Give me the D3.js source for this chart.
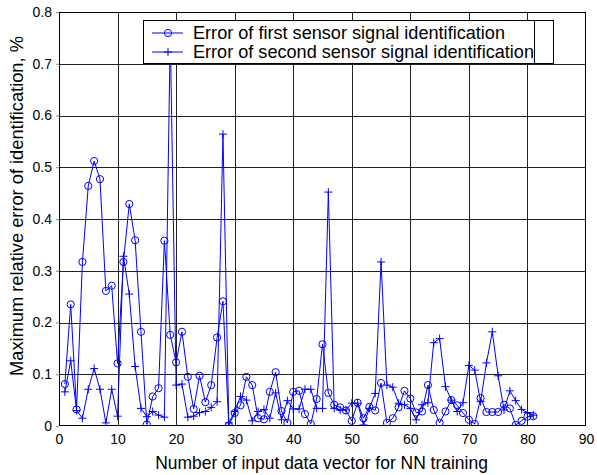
<!DOCTYPE html>
<html><head><meta charset="utf-8">
<script src="https://cdn.jsdelivr.net/npm/d3@7"></script>
<style>body{margin:0;background:#fff}svg{display:block}text{font-family:"Liberation Sans",Arial,sans-serif}</style>
</head><body>
<script>
const xTicks = [0,10,20,30,40,50,60,70,80,90];
const yTicks = [0,0.1,0.2,0.3,0.4,0.5,0.6,0.7,0.8];
const yTickLabels = ["0","0.1","0.2","0.3","0.4","0.5","0.6","0.7","0.8"];
const seriesNames = ["Error of first sensor signal identification","Error of second sensor signal identification"];
const xLabel = "Number of input data vector for NN training";
const yLabel = "Maximum relative error of identification, %";
const sample = d3.range(1, 82);
const firstSensor = [0.081,0.235,0.032,0.317,0.464,0.512,0.477,0.261,0.271,0.121,
0.317,0.429,0.359,0.182,0.003,0.057,0.073,0.358,0.176,0.123,
0.182,0.095,0.033,0.097,0.046,0.079,0.171,0.241,0.001,0.025,
0.040,0.095,0.079,0.015,0.013,0.066,0.104,0.029,0.006,0.066,
0.068,0.023,0.004,0.052,0.158,0.064,0.041,0.036,0.030,0.010,
0.045,0.015,0.037,0.030,0.083,0.006,0.015,0.036,0.068,0.053,
0.026,0.028,0.079,0.031,0.006,0.028,0.050,0.040,0.025,0.012,
0.004,0.054,0.027,0.027,0.027,0.041,0.034,0.002,0.010,0.018,0.019];
const secondSensor = [0.066,0.126,0.030,0.015,0.071,0.111,0.071,0.006,0.071,0.019,
0.328,0.255,0.115,0.034,0.018,0.028,0.021,0.017,0.760,0.079,
0.081,0.017,0.019,0.026,0.028,0.036,0.047,0.564,0.006,0.028,
0.057,0.050,0.010,0.028,0.032,0.015,0.064,0.012,0.049,0.033,
0.033,0.071,0.071,0.034,0.034,0.452,0.034,0.031,0.031,0.044,
0.044,0.002,0.034,0.063,0.317,0.079,0.075,0.044,0.041,0.034,
0.012,0.041,0.045,0.161,0.169,0.076,0.050,0.028,0.045,0.117,
0.108,0.047,0.122,0.182,0.097,0.031,0.068,0.049,0.032,0.026,0.021];

const W = 597, H = 475;
const L = 59, R = 586, T = 12, B = 426;
const blue = "#0000ff";
const svg = d3.select("body").append("svg").attr("width", W).attr("height", H);
const x = d3.scaleLinear().domain([0, 90]).range([L, R]);
const y = d3.scaleLinear().domain([0, 0.8]).range([B, T]);

// grid
const g = svg.append("g").attr("shape-rendering","crispEdges");
g.selectAll(".gx").data(xTicks.slice(1,-1)).join("line")
  .attr("x1", d => Math.round(x(d))+0.5).attr("x2", d => Math.round(x(d))+0.5)
  .attr("y1", T).attr("y2", B).attr("stroke", "#222").attr("stroke-width", 1);
g.selectAll(".gy").data(yTicks.slice(1,-1)).join("line")
  .attr("y1", d => Math.round(y(d))+0.5).attr("y2", d => Math.round(y(d))+0.5)
  .attr("x1", L).attr("x2", R).attr("stroke", "#222").attr("stroke-width", 1);

// axes with tick labels
const xAxis = d3.axisBottom(x).tickValues(xTicks).tickSize(0).tickPadding(8).tickFormat(d3.format("d"));
const yAxis = d3.axisLeft(y).tickValues(yTicks).tickSize(3).tickPadding(4).tickFormat((d,i) => yTickLabels[i]);
const gx = svg.append("g").attr("transform", `translate(0,${B})`).call(xAxis);
const gy = svg.append("g").attr("transform", `translate(${L},0)`).call(yAxis);
[gx, gy].forEach(a => {
  a.select(".domain").remove();
  a.selectAll("text").attr("font-size", 14).attr("fill", "#000").attr("font-family", '"Liberation Sans",Arial,sans-serif');
  a.selectAll("line").attr("stroke", "#888");
});

// box
svg.append("rect").attr("x", L+0.5).attr("y", T+0.5).attr("width", R-L-1).attr("height", B-T-1)
  .attr("fill", "none").attr("stroke", "#000").attr("stroke-width", 1).attr("shape-rendering","crispEdges");

// data
const clip = svg.append("clipPath").attr("id","pc").append("rect").attr("x",L).attr("y",T).attr("width",R-L).attr("height",B-T);
const plot = svg.append("g").attr("clip-path","url(#pc)");
const line = d3.line().x((d,i) => x(sample[i])).y(d => y(d));
plot.append("path").datum(secondSensor).attr("d", line).attr("fill","none").attr("stroke",blue).attr("stroke-width",1);
plot.append("path").datum(firstSensor).attr("d", line).attr("fill","none").attr("stroke",blue).attr("stroke-width",1);
plot.selectAll(".c").data(firstSensor).join("circle")
  .attr("cx", (d,i) => x(sample[i])).attr("cy", d => y(d)).attr("r", 3.6)
  .attr("fill","none").attr("stroke",blue).attr("stroke-width",1);
const ps = 4;
plot.selectAll(".p").data(secondSensor).join("path")
  .attr("d", (d,i) => { const cx = x(sample[i]), cy = y(d); return `M${cx-ps},${cy}H${cx+ps}M${cx},${cy-ps}V${cy+ps}`; })
  .attr("fill","none").attr("stroke",blue).attr("stroke-width",1);

// legend
const lg = svg.append("g");
lg.append("rect").attr("x",143.5).attr("y",20.5).attr("width",410).attr("height",43)
  .attr("fill","#fff").attr("stroke","#000").attr("stroke-width",1).attr("shape-rendering","crispEdges");
lg.append("line").attr("x1",534.5).attr("x2",534.5).attr("y1",20).attr("y2",64).attr("stroke","#000").attr("shape-rendering","crispEdges");
const rows = [33, 52];
rows.forEach((ry, k) => {
  lg.append("line").attr("x1",152).attr("x2",183).attr("y1",ry).attr("y2",ry).attr("stroke",blue).attr("stroke-width",1);
  if (k === 0) lg.append("circle").attr("cx",168).attr("cy",ry).attr("r",3.6).attr("fill","none").attr("stroke",blue);
  else lg.append("path").attr("d",`M${168-ps},${ry}H${168+ps}M168,${ry-ps}V${ry+ps}`).attr("stroke",blue).attr("fill","none");
  const t = lg.append("text").attr("x",193).attr("y",ry+5.5).attr("font-size",16).attr("fill","#000").text(seriesNames[k]);
});
// fit legend text widths
const targets = [312, 341];
lg.selectAll("text").each(function(d,i){
  const w = this.getComputedTextLength();
  d3.select(this).attr("font-size", (16*targets[i]/w).toFixed(2));
});

// axis labels
const xl = svg.append("text").attr("x", (155+488)/2).attr("y", 469).attr("text-anchor","middle")
  .attr("font-size",15).attr("fill","#000").text(xLabel);
const xw = xl.node().getComputedTextLength(); xl.attr("font-size", (15*333/xw).toFixed(2));
const yl = svg.append("text").attr("transform","translate(23,206) rotate(-90)").attr("text-anchor","middle")
  .attr("font-size",15).attr("fill","#000").text(yLabel);
const yw = yl.node().getComputedTextLength(); yl.attr("font-size", (15*340/yw).toFixed(2));
</script>
</body></html>
